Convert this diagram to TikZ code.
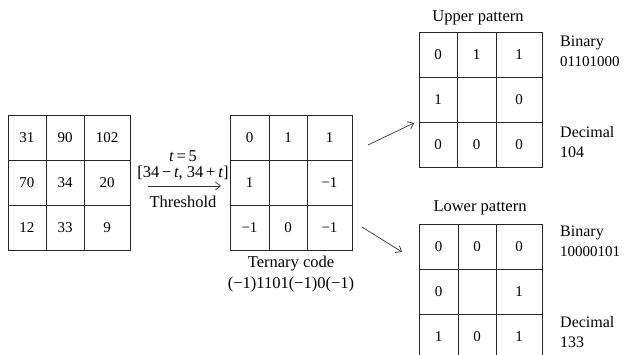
\documentclass[tikz,border=0pt]{standalone}
\usepackage{fontspec}
\setmainfont{Liberation Serif}
\usetikzlibrary{arrows.meta}
\begin{document}
\begin{tikzpicture}[x=1pt,y=-1pt,
  cellbox/.style={draw=black!85,line width=0.9pt,inner sep=0pt,font=\fontsize{15}{18}\selectfont},
  lbl/.style={inner sep=0pt,font=\fontsize{16.5}{19}\selectfont},
  sidelbl/.style={inner sep=0pt,anchor=west,align=left,font=\fontsize{16}{20}\selectfont},
  conn/.style={draw=black!80,line width=0.7pt,-{Straight Barb[length=5pt,width=8pt]}}]
\useasboundingbox (0,0) rectangle (625,355);
\clip (0,0) rectangle (625,355);
% input grid
\foreach \r/\ya/\yb/\va/\vb/\vc in {1/115/160/31/90/102,2/160/205/70/34/20,3/205/250/12/33/9}{
  \foreach \c/\xa/\xb/\v in {1/8/46/\va,2/46/84/\vb,3/84/130/\vc}{
    \node[cellbox,minimum width={(\xb-\xa)*1pt},minimum height={(\yb-\ya)*1pt}]
      (L\r\c) at ({(\xa+\xb)/2},{(\ya+\yb)/2}) {\v};
  }
}
% ternary grid
\foreach \r/\ya/\yb/\va/\vb/\vc in {1/115/160/0/1/1,2/160/205/1/{}/−1,3/205/250/−1/0/−1}{
  \foreach \c/\xa/\xb/\v in {1/230/269/\va,2/269/307/\vb,3/307/352/\vc}{
    \node[cellbox,minimum width={(\xb-\xa)*1pt},minimum height={(\yb-\ya)*1pt}]
      (T\r\c) at ({(\xa+\xb)/2},{(\ya+\yb)/2}) {\v};
  }
}
% upper pattern grid
\foreach \r/\ya/\yb/\va/\vb/\vc in {1/32/77/0/1/1,2/77/122/1/{}/0,3/122/167/0/0/0}{
  \foreach \c/\xa/\xb/\v in {1/419/457/\va,2/457/496/\vb,3/496/542/\vc}{
    \node[cellbox,minimum width={(\xb-\xa)*1pt},minimum height={(\yb-\ya)*1pt}]
      (U\r\c) at ({(\xa+\xb)/2},{(\ya+\yb)/2}) {\v};
  }
}
% lower pattern grid
\foreach \r/\ya/\yb/\va/\vb/\vc in {1/224/269/0/0/0,2/269/314/0/{}/1,3/314/359/1/0/1}{
  \foreach \c/\xa/\xb/\v in {1/419/458/\va,2/458/496/\vb,3/496/542/\vc}{
    \node[cellbox,minimum width={(\xb-\xa)*1pt},minimum height={(\yb-\ya)*1pt}]
      (W\r\c) at ({(\xa+\xb)/2},{(\ya+\yb)/2}) {\v};
  }
}
% threshold arrow and labels
\coordinate (thA) at (148,186);
\coordinate (thB) at (221,186);
\draw[conn] (thA) -- (thB);
\node[lbl] (tval) at (183,156) {\textit{t}\,=\,5};
\node[lbl] (trange) at (183,173) {[34\,−\,\textit{t}, 34\,+\,\textit{t}]};
\node[lbl] (thr) at (183,202) {Threshold};
% ternary labels
\node[lbl] (tc) at (291,264) {Ternary code};
\node[lbl] (tcode) at (291,285) {(−1)1101(−1)0(−1)};
% connectors to patterns
\coordinate (upA) at (368,145);
\coordinate (upB) at (414,123);
\draw[conn] (upA) -- (upB);
\coordinate (loA) at (362,227);
\coordinate (loB) at (402,252);
\draw[conn] (loA) -- (loB);
% pattern titles
\node[lbl] (up) at (478,18) {Upper pattern};
\node[lbl] (lo) at (480,208) {Lower pattern};
% side labels
\node[sidelbl] (ubin) at (560,51) {Binary\\{\fontsize{15}{17}\selectfont 01101000}};
\node[sidelbl] (udec) at (560,142) {Decimal\\104};
\node[sidelbl] (lbin) at (560,241) {Binary\\{\fontsize{15}{17}\selectfont 10000101}};
\node[sidelbl] (ldec) at (560,332) {Decimal\\133};
\end{tikzpicture}
\end{document}
